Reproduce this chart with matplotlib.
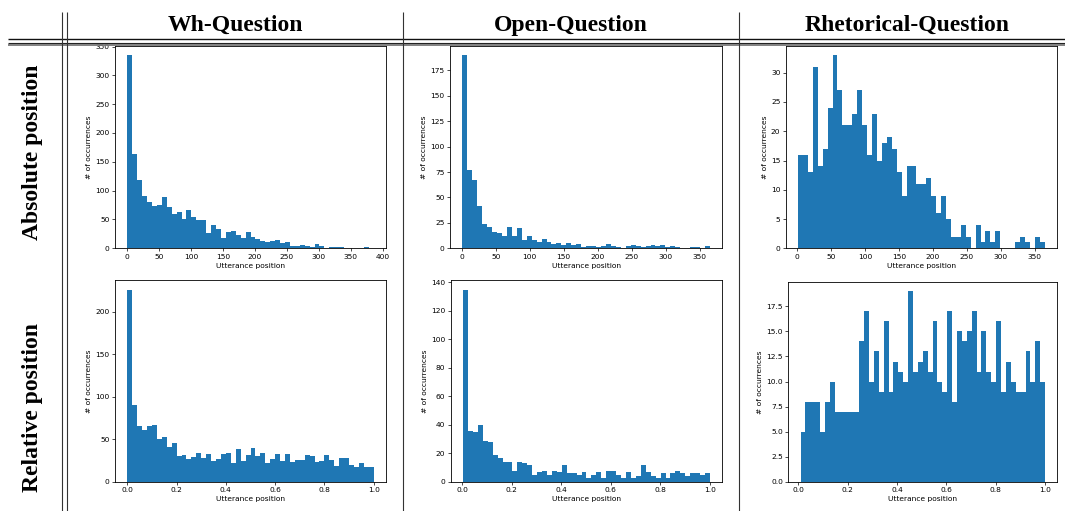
import numpy as np
import matplotlib
matplotlib.use("Agg")
import matplotlib.pyplot as plt

# ---------------- data ----------------
columns = ["Wh-Question", "Open-Question", "Rhetorical-Question"]
rows = ["Absolute position", "Relative position"]

wh_abs_range = (0, 386)
wh_abs = [335, 163, 118, 90, 80, 73, 75, 89, 71, 60, 63, 51, 66, 54, 49, 49, 27, 40, 33, 17,
          28, 30, 23, 17, 28, 19, 16, 12, 11, 13, 14, 10, 11, 4, 4, 6, 4, 2, 8, 4,
          0, 2, 2, 2, 1, 0, 0, 0, 2, 1]

open_abs_range = (1, 365)
open_abs = [190, 77, 67, 42, 24, 21, 16, 15, 12, 21, 12, 20, 8, 12, 8, 6, 9, 6, 4, 5,
            3, 5, 3, 4, 1, 2, 2, 1, 2, 4, 2, 1, 0, 2, 3, 2, 1, 2, 3, 2,
            3, 1, 2, 1, 0, 0, 1, 1, 0, 2]

rhet_abs_range = (1, 365)
rhet_abs = [16, 16, 13, 31, 14, 17, 24, 33, 27, 21, 21, 23, 27, 21, 16, 23, 15, 18, 19, 17,
            13, 9, 14, 14, 11, 11, 12, 9, 6, 9, 5, 2, 2, 4, 2, 0, 4, 1, 3, 1,
            3, 0, 0, 0, 1, 2, 1, 0, 2, 1]

wh_rel_range = (0.0, 1.0)
wh_rel = [226, 90, 66, 61, 66, 67, 50, 53, 41, 46, 31, 32, 27, 29, 34, 28, 33, 25, 27, 33,
          34, 22, 39, 25, 32, 40, 30, 34, 22, 27, 33, 25, 33, 24, 26, 26, 32, 31, 24, 25,
          32, 26, 19, 28, 28, 20, 18, 22, 18, 18]

open_rel_range = (0.004, 1.0)
open_rel = [135, 36, 35, 40, 29, 28, 19, 17, 14, 14, 8, 14, 13, 12, 5, 7, 8, 5, 8, 7,
            12, 6, 6, 5, 7, 3, 5, 7, 3, 8, 8, 5, 3, 7, 3, 4, 12, 7, 4, 3,
            6, 3, 6, 8, 6, 4, 6, 6, 5, 6]

rhet_rel_range = (0.009, 1.0)
rhet_rel = [5, 8, 8, 8, 5, 8, 10, 7, 7, 7, 7, 7, 14, 17, 10, 13, 9, 16, 9, 12,
            11, 10, 19, 11, 12, 13, 11, 16, 10, 9, 17, 8, 15, 14, 15, 17, 11, 15, 11, 10,
            16, 9, 12, 10, 9, 9, 13, 10, 14, 10]

abs_xticks_wh = [0, 50, 100, 150, 200, 250, 300, 350, 400]
abs_xticks = [0, 50, 100, 150, 200, 250, 300, 350]
rel_xticks = [0.0, 0.2, 0.4, 0.6, 0.8, 1.0]
yticks = {
    "wh_abs": [0, 50, 100, 150, 200, 250, 300, 350],
    "open_abs": [0, 25, 50, 75, 100, 125, 150, 175],
    "rhet_abs": [0, 5, 10, 15, 20, 25, 30],
    "wh_rel": [0, 50, 100, 150, 200],
    "open_rel": [0, 20, 40, 60, 80, 100, 120, 140],
    "rhet_rel": [0.0, 2.5, 5.0, 7.5, 10.0, 12.5, 15.0, 17.5],
}

# ---------------- figure ----------------
W, H = 1065, 511
fig = plt.figure(figsize=(W / 100, H / 100), dpi=100)

FS = 5.4
plt.rcParams.update({
    "font.size": FS,
    "xtick.labelsize": FS,
    "ytick.labelsize": FS,
    "axes.labelsize": FS,
    "axes.linewidth": 0.6,
    "xtick.major.size": 1.9,
    "ytick.major.size": 1.9,
    "xtick.major.width": 0.5,
    "ytick.major.width": 0.5,
    "xtick.major.pad": 1.9,
    "ytick.major.pad": 1.9,
    "axes.labelpad": 2.2,
})


def add_ax(L, R, T, B):
    return fig.add_axes([L / W, 1 - B / H, (R - L) / W, (B - T) / H])


panels = [
    ((115, 386, 45.5, 248.3), wh_abs, wh_abs_range, abs_xticks_wh, yticks["wh_abs"], False, "int"),
    ((450, 722.3, 45.5, 248.3), open_abs, open_abs_range, abs_xticks, yticks["open_abs"], False, "int"),
    ((785.7, 1057, 45.5, 248.3), rhet_abs, rhet_abs_range, abs_xticks, yticks["rhet_abs"], False, "int"),
    ((115, 386, 280, 482), wh_rel, wh_rel_range, rel_xticks, yticks["wh_rel"], True, "int"),
    ((450.7, 722.3, 280, 482), open_rel, open_rel_range, rel_xticks, yticks["open_rel"], True, "int"),
    ((788.3, 1057.3, 281.7, 482), rhet_rel, rhet_rel_range, rel_xticks, yticks["rhet_rel"], True, "float"),
]

for box, counts, rng, xt, yt, rel, yfmt in panels:
    ax = add_ax(*box)
    edges = np.linspace(rng[0], rng[1], len(counts) + 1)
    ax.hist(edges[:-1], bins=edges, weights=counts, color="#1f77b4")
    ax.set_xticks(xt)
    if rel:
        ax.set_xticklabels([f"{v:.1f}" for v in xt])
    ax.set_yticks(yt)
    if yfmt == "float":
        ax.set_yticklabels([f"{v:.1f}" for v in yt])
    ax.set_xlabel("Utterance position")
    ax.set_ylabel("# of occurrences")

# ---------------- table overlay ----------------
ov = fig.add_axes([0, 0, 1, 1], zorder=10)
ov.set_xlim(0, W)
ov.set_ylim(H, 0)
ov.axis("off")
ov.patch.set_alpha(0)

# horizontal rules
ov.plot([8, W], [38.7, 38.7], color="#111111", lw=1.0, solid_capstyle="butt")
ov.plot([8, W], [43.3, 43.3], color="#222222", lw=0.8, solid_capstyle="butt")
ov.plot([8, W], [45.4, 45.4], color="#777777", lw=1.3, solid_capstyle="butt")
# vertical rules
for x in (61.7, 67.3, 403, 738.5):
    ov.plot([x, x], [12, H], color="#333333", lw=0.8, solid_capstyle="butt")

hdr_font = dict(family="Liberation Serif", weight="bold", size=17)
for cx, name in zip((235, 571, 907), columns):
    ov.text(cx, 31, name, ha="center", va="baseline", **hdr_font)

for cy, name in zip((152, 408), rows):
    ov.text(33, cy, name, ha="center", va="center", rotation=90, **hdr_font)

fig.savefig("out.png", dpi=100)
